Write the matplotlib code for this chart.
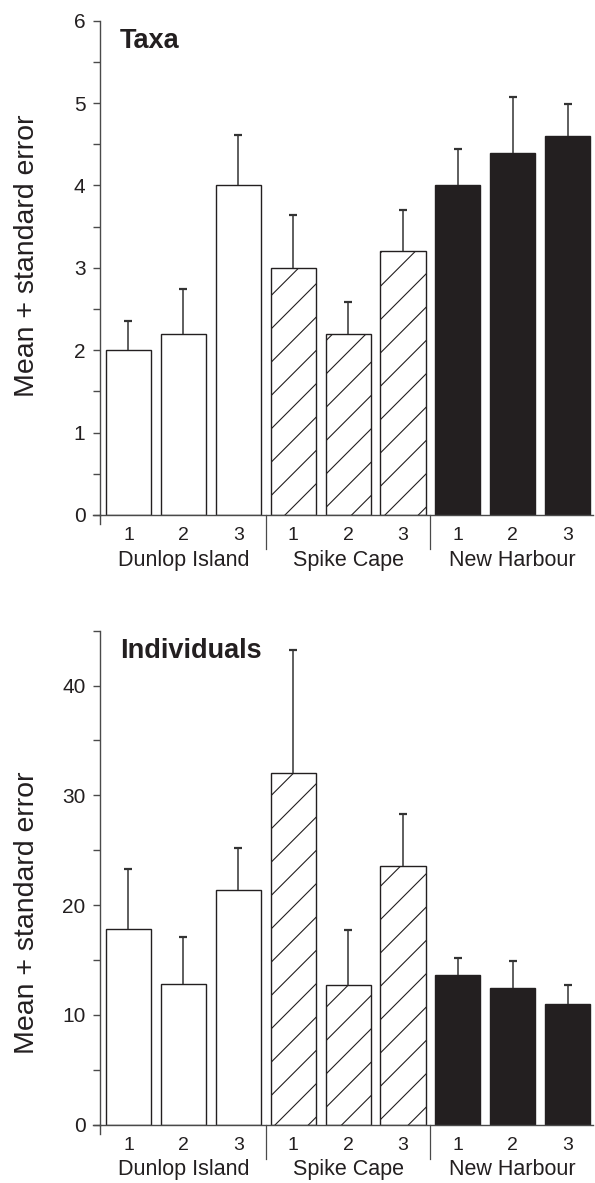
import matplotlib
matplotlib.use("Agg")
import matplotlib.pyplot as plt
import matplotlib.transforms as mtransforms
from matplotlib.lines import Line2D
import numpy as np

plt.rcParams['font.family'] = ['Liberation Sans', 'DejaVu Sans']
plt.rcParams['hatch.linewidth'] = 0.8

# ---------------- data ----------------
groups = ["Dunlop Island", "Spike Cape", "New Harbour"]
sites = ["1", "2", "3"]

taxa_means = [2.0, 2.2, 4.0, 3.0, 2.2, 3.2, 4.0, 4.4, 4.6]
taxa_se = [0.35, 0.54, 0.61, 0.64, 0.39, 0.50, 0.44, 0.67, 0.39]

ind_means = [17.8, 12.8, 21.4, 32.0, 12.7, 23.6, 13.6, 12.4, 11.0]
ind_se = [5.45, 4.25, 3.8, 11.2, 5.0, 4.7, 1.6, 2.46, 1.75]

panel_titles = ["Taxa", "Individuals"]
ylabel = "Mean + standard error"

# ---------------- style ----------------
W, H = 595, 1183
DPI = 100
INK = '#231f20'
AX = '#4a4a4a'
fills = ['white'] * 3 + ['white'] * 3 + [INK] * 3
hatches = [''] * 3 + ['/'] * 3 + [''] * 3

fig = plt.figure(figsize=(W / DPI, H / DPI), dpi=DPI)

left_px, right_px = 100, 593
panels = [
    dict(top=20.7, bottom=515.0, ylim=(0, 6), major=1, minor=0.5,
         means=taxa_means, se=taxa_se, title=panel_titles[0], ylab_y=0.524),
    dict(top=630.7, bottom=1124.5, ylim=(0, 45), major=10, minor=5,
         means=ind_means, se=ind_se, title=panel_titles[1], ylab_y=0.429),
]

x = np.arange(len(taxa_means))
xlim = (-0.519, 8.461)

for p in panels:
    ax = fig.add_axes([left_px / W, 1 - p['bottom'] / H,
                       (right_px - left_px) / W, (p['bottom'] - p['top']) / H])
    ax_h = p['bottom'] - p['top']
    ax_w = right_px - left_px
    bars = ax.bar(x, p['means'], width=0.82, color=fills, edgecolor=INK,
                  linewidth=1.0, zorder=2)
    for b, h in zip(bars, hatches):
        b.set_hatch(h)
    eb = ax.errorbar(x, p['means'], yerr=[np.zeros(len(x)), p['se']], fmt='none',
                     ecolor='#333333', elinewidth=1.1, capsize=2.6, capthick=1.6,
                     zorder=3)
    # hide the caps sitting on the bar tops (only upper error is shown)
    for cl in eb[1]:
        yd = np.asarray(cl.get_ydata(), dtype=float)
        if np.allclose(yd, np.asarray(p['means'], dtype=float)):
            cl.set_visible(False)
    ax.set_xlim(*xlim)
    ax.set_ylim(*p['ylim'])
    for s in ['top', 'right']:
        ax.spines[s].set_visible(False)
    for s in ['left', 'bottom']:
        ax.spines[s].set_color(AX)
        ax.spines[s].set_linewidth(1.0)
    yt = np.arange(p['ylim'][0], p['ylim'][1] + 1e-9, p['major'])
    ax.set_yticks(yt)
    ax.set_yticklabels([f"{v:g}" for v in yt])
    ax.set_yticks(np.arange(p['ylim'][0], p['ylim'][1] + 1e-9, p['minor']), minor=True)
    ax.tick_params(axis='y', which='both', length=5, width=1.0, color=AX,
                   labelsize=15, pad=5.5, labelcolor=INK)
    ax.set_xticks(x)
    ax.set_xticklabels(sites * 3)
    ax.tick_params(axis='x', length=0, labelsize=14, pad=9, labelcolor=INK)

    # group names
    trans = mtransforms.blended_transform_factory(ax.transData, ax.transAxes)
    for gi, g in enumerate(groups):
        ax.text(3 * gi + 1, -50.7 / ax_h, g, transform=trans, ha='center',
                va='baseline', fontsize=15.5, color=INK)
    # group separators
    for sx in [2.5, 5.5]:
        ax.add_line(Line2D([sx, sx], [0, -34 / ax_h], transform=trans,
                           color=AX, linewidth=0.9, clip_on=False))
    # axis extensions
    ax.add_line(Line2D([0, 0], [0, -9 / ax_h], transform=ax.transAxes,
                       color=AX, linewidth=1.0, clip_on=False))
    ax.add_line(Line2D([-7 / ax_w, 0], [0, 0], transform=ax.transAxes,
                       color=AX, linewidth=1.0, clip_on=False))

    ax.text(20 / ax_w, 1 - 27.6 / ax_h, p['title'], transform=ax.transAxes,
            ha='left', va='baseline', fontsize=19.5, fontweight='bold', color=INK)
    ax.text((27 - left_px) / ax_w, p['ylab_y'], ylabel, transform=ax.transAxes,
            rotation=90, ha='center', va='center', fontsize=20.5, color=INK)

fig.savefig("out.png", dpi=DPI)
